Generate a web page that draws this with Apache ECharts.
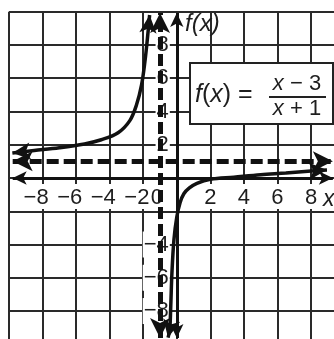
<!DOCTYPE html>
<html>
<head>
<meta charset="utf-8">
<script src="https://cdn.jsdelivr.net/npm/echarts@6/dist/echarts.min.js"></script>
<style>
  html, body { margin: 0; padding: 0; background: #fff; }
  #chart { width: 334px; height: 339px; }
</style>
</head>
<body>
<div id="chart"></div>
<script>
// Tick labels shown on each axis
const xTickLabels = [-8, -6, -4, -2, 0, 2, 4, 6, 8];
const yTickLabels = [-8, -6, -4, 2, 4, 6, 8];

// Left branch of f(x) = (x - 3) / (x + 1)
const leftX = [-9.8, -8.5, -7.0, -5.5, -4.5, -3.5, -2.8, -2.4, -2.1, -1.9, -1.75, -1.62];
const leftY = [1.5, 1.65, 1.82, 2.05, 2.3, 2.72, 3.45, 4.4, 5.6, 7.0, 8.4, 9.8];

// Right branch
const rightX = [-0.52, -0.42, -0.36, -0.29, -0.17, 0.0, 0.19, 0.42, 0.75, 1.2, 2.0, 3.4, 5.0, 6.5, 8.0, 8.95];
const rightY = [-9.6, -9.1, -7.7, -5.7, -3.7, -2.35, -1.5, -0.95, -0.6, -0.32, -0.08, 0.05, 0.2, 0.3, 0.42, 0.48];

// Asymptotes
const asymptoteX = -1;
const asymptoteY = 1;

// Extent of the drawn axis lines (arrow tips)
const xAxisEnds = [-9.78, 9.3];
const yAxisEnds = [-9.62, 9.92];

const FONT = 'Liberation Sans, Arial, sans-serif';
const INK = '#1e1e1e';
const MINUS = '\u2212';

// Plot area: x and y both run from -10 to 10
const GRID = { left: 9, top: 11.7, right: -10.6, bottom: -5.3 };
const CHART_W = 334, CHART_H = 339;

function fmt(v) {
  return v < 0 ? MINUS + Math.abs(v) : String(v);
}

function buildPoints(xs, ys, rot) {
  return xs.map((x, i) => {
    const item = { value: [x, ys[i]] };
    if (i === 0 || i === xs.length - 1) {
      item.symbol = 'arrow';
      item.symbolSize = [13, 18];
      item.symbolRotate = rot ? (i === 0 ? rot[0] : rot[1]) : 0;
    }
    return item;
  });
}

const chart = echarts.init(document.getElementById('chart'), null, { renderer: 'canvas' });

function curveSeries(name, xs, ys, rot) {
  return {
    name: name,
    type: 'line',
    data: buildPoints(xs, ys, rot),
    smooth: 0.35,
    symbol: 'none',
    showSymbol: true,
    showAllSymbol: true,
    itemStyle: { color: '#111' },
    lineStyle: { color: '#111', width: 3.5 },
    z: 5,
    silent: true,
    animation: false
  };
}

// Offsets that bring the tick labels onto the zero lines
const gridW = CHART_W - GRID.left - GRID.right;
const gridH = CHART_H - GRID.top - GRID.bottom;
const xAxisOffset = -(gridH / 2);   // from the bottom edge up to y = 0
const yAxisOffset = -(gridW / 2);   // from the left edge across to x = 0

function makeOption(rotL, rotR) {
  return {
    animation: false,
    grid: Object.assign({ containLabel: false, outerBoundsMode: 'none' }, GRID),
    xAxis: {
      type: 'value', min: -10, max: 10, interval: 2,
      position: 'bottom', offset: xAxisOffset,
      axisLine: { show: false, onZero: false },
      axisTick: { show: false },
      splitLine: { show: true, lineStyle: { color: '#2a2a2a', width: 2 } },
      axisLabel: {
        margin: 8,
        formatter: function (v) {
          if (xTickLabels.indexOf(v) < 0) return '';
          if (v < 0) return '{a|' + fmt(v) + '}{s| }';
          if (v === 0) return '{a|0}{z| }';
          return '{a|' + v + '}';
        },
        rich: {
          a: { fontFamily: FONT, fontSize: 22, color: INK, backgroundColor: '#fff', padding: [3, 1, 0, 1], lineHeight: 21 },
          s: { width: 12.8, fontSize: 22, lineHeight: 21 },
          z: { width: 40, fontSize: 22, lineHeight: 21 }
        }
      }
    },
    yAxis: {
      type: 'value', min: -10, max: 10, interval: 2,
      position: 'left', offset: yAxisOffset,
      axisLine: { show: false, onZero: false },
      axisTick: { show: false },
      splitLine: { show: true, lineStyle: { color: '#2a2a2a', width: 2 } },
      axisLabel: {
        margin: 7,
        formatter: function (v) {
          if (yTickLabels.indexOf(v) < 0) return '';
          return '{a|' + fmt(v) + '}';
        },
        rich: {
          a: { fontFamily: FONT, fontSize: 22, color: INK, backgroundColor: '#fff', padding: [2, 1, 2, 1], lineHeight: 24 }
        }
      }
    },
    series: [
      {
        name: 'axes',
        type: 'line',
        data: [],
        silent: true,
        z: 3,
        markLine: {
          silent: true,
          animation: false,
          symbol: ['arrow', 'arrow'],
          symbolSize: [10, 14],
          label: { show: false },
          lineStyle: { color: '#111', width: 3, type: 'solid' },
          data: [
            [{ coord: [xAxisEnds[0], 0] }, { coord: [xAxisEnds[1], 0] }],
            [{ coord: [0, yAxisEnds[0]] }, { coord: [0, yAxisEnds[1]] }]
          ]
        }
      },
      {
        name: 'asymptotes',
        type: 'line',
        data: [],
        silent: true,
        z: 4,
        markLine: {
          silent: true,
          animation: false,
          symbol: ['arrow', 'arrow'],
          symbolSize: [15, 20],
          label: { show: false },
          lineStyle: { color: '#111', width: 5, type: [12, 5] },
          data: [
            [{ coord: [xAxisEnds[0], asymptoteY] }, { coord: [xAxisEnds[1], asymptoteY] }],
            [{ coord: [asymptoteX, yAxisEnds[0]] }, { coord: [asymptoteX, yAxisEnds[1]] }]
          ]
        }
      },
      curveSeries('left', leftX, leftY, rotL),
      curveSeries('right', rightX, rightY, rotR)
    ],
    graphic: [
      {
        type: 'text', z: 20, left: 185, top: 12,
        style: { text: 'f(x)', fontFamily: FONT, fontSize: 24, fontStyle: 'italic', fill: INK }
      },
      {
        type: 'text', z: 20, left: 323, top: 188,
        style: { text: 'x', fontFamily: FONT, fontSize: 23, fontStyle: 'italic', fill: INK }
      },
      {
        type: 'group', z: 20,
        children: [
          {
            type: 'rect', z: 20,
            shape: { x: 190, y: 63, width: 143, height: 61 },
            style: { fill: '#fff', stroke: '#222', lineWidth: 2 }
          },
          {
            type: 'text', z: 21, x: 195, y: 95,
            style: {
              text: '{i|f}({i|x}) =', fontFamily: FONT, fontSize: 25, fill: INK,
              verticalAlign: 'middle',
              rich: { i: { fontFamily: FONT, fontSize: 25, fontStyle: 'italic', fill: INK } }
            }
          },
          {
            type: 'text', z: 21, x: 297, y: 84,
            style: {
              text: '{i|x} ' + MINUS + ' 3', fontFamily: FONT, fontSize: 22, fill: INK, align: 'center', verticalAlign: 'middle',
              rich: { i: { fontFamily: FONT, fontSize: 22, fontStyle: 'italic', fill: INK } }
            }
          },
          {
            type: 'line', z: 21,
            shape: { x1: 269, y1: 97, x2: 326, y2: 97 },
            style: { stroke: '#222', lineWidth: 1.8 }
          },
          {
            type: 'text', z: 21, x: 297, y: 109,
            style: {
              text: '{i|x} + 1', fontFamily: FONT, fontSize: 22, fill: INK, align: 'center', verticalAlign: 'middle',
              rich: { i: { fontFamily: FONT, fontSize: 22, fontStyle: 'italic', fill: INK } }
            }
          }
        ]
      }
    ]
  };
}

chart.setOption(makeOption(null, null));

// Orient the end arrows of each branch along the curve direction
function endRotations(xs, ys) {
  const p = (i) => chart.convertToPixel({ gridIndex: 0 }, [xs[i], ys[i]]);
  const ang = (a, b) => {
    const dx = b[0] - a[0], dy = b[1] - a[1];
    const phi = Math.atan2(-dy, dx) * 180 / Math.PI;
    return phi - 90;
  };
  const n = xs.length;
  return [ang(p(1), p(0)), ang(p(n - 2), p(n - 1))];
}

chart.setOption(makeOption(endRotations(leftX, leftY), endRotations(rightX, rightY)));
</script>
</body>
</html>
